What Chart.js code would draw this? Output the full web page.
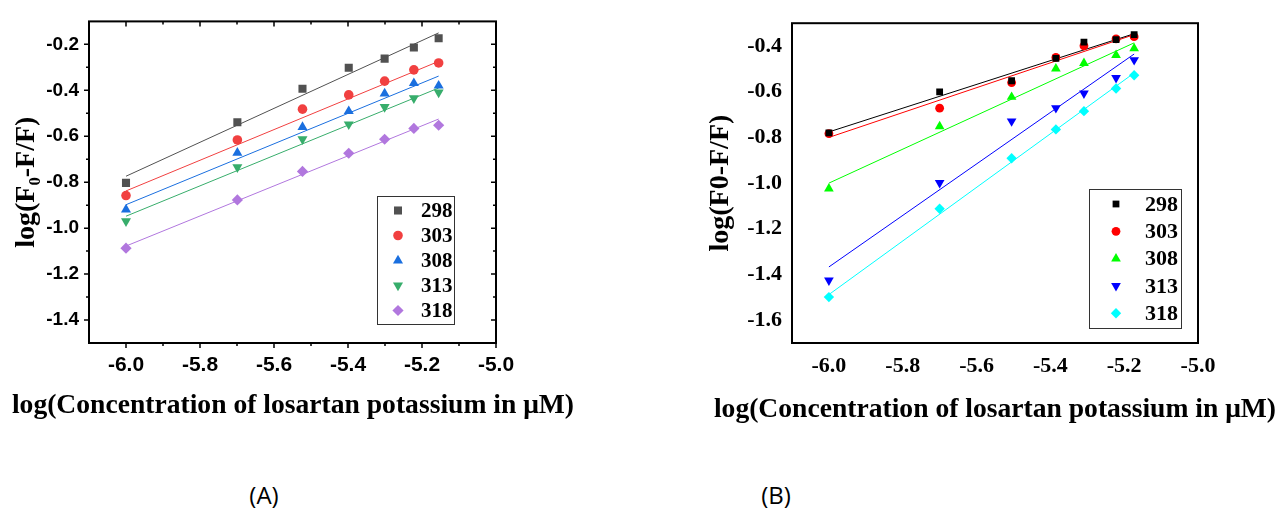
<!DOCTYPE html>
<html>
<head>
<meta charset="utf-8">
<script src="https://cdn.jsdelivr.net/npm/chart.js@4/dist/chart.umd.min.js"></script>
<style>
  body { margin: 0; width: 1278px; height: 510px; background: #fff; position: relative; overflow: hidden; }
  #boxA { position: absolute; left: 0; top: 0; width: 600px; height: 430px; }
  #boxB { position: absolute; left: 640px; top: 0; width: 638px; height: 430px; }
  .xt { position: absolute; width: 640px; text-align: center; white-space: nowrap;
        font: bold 27.6px "Liberation Serif", "Times New Roman", serif; line-height: 30px; color: #000; }
  .tag { position: absolute; top: 480px; width: 60px; text-align: center;
         font: 24px "Open Sans", sans-serif; line-height: 30px; color: #000; }
</style>
</head>
<body>
<div id="boxA"><canvas id="chartA"></canvas></div>
<div id="boxB"><canvas id="chartB"></canvas></div>
<div class="xt" style="left:-27px; top:389px">log(Concentration of losartan potassium in μM)</div>
<div class="xt" style="left:675px; top:393px">log(Concentration of losartan potassium in μM)</div>
<div class="tag" style="left:234px">(A)</div>
<div class="tag" style="left:746px">(B)</div>

<script>
// temperatures (legend)
const temps = ['298', '303', '308', '313', '318'];

// ---- panel A ----
const xA = [-6.0, -5.699, -5.523, -5.398, -5.301, -5.222, -5.155];
const yA298 = [-0.803, -0.539, -0.393, -0.302, -0.262, -0.214, -0.173];
const yA303 = [-0.858, -0.616, -0.482, -0.420, -0.360, -0.311, -0.281];
const yA308 = [-0.919, -0.672, -0.560, -0.491, -0.414, -0.369, -0.380];
const yA313 = [-0.970, -0.735, -0.613, -0.548, -0.472, -0.434, -0.409];
const yA318 = [-1.087, -0.877, -0.753, -0.674, -0.613, -0.566, -0.552];
const fitAx = [-6.0, -5.155];
const fitAstart = [-0.774, -0.838, -0.898, -0.948, -1.078];
const fitAend = [-0.150, -0.274, -0.338, -0.390, -0.525];
const yTicksA = [-1.4, -1.2, -1.0, -0.8, -0.6, -0.4, -0.2];

// ---- panel B ----
const xB = [-6.0, -5.70, -5.505, -5.385, -5.309, -5.222, -5.173];
const yB298 = [-0.780, -0.601, -0.552, -0.454, -0.383, -0.372, -0.350];
const yB303 = [-0.783, -0.672, -0.560, -0.450, -0.399, -0.369, -0.359];
const yB308 = [-1.024, -0.752, -0.623, -0.499, -0.475, -0.440, -0.410];
const yB313 = [-1.426, -0.999, -0.729, -0.671, -0.607, -0.539, -0.461];
const yB318 = [-1.499, -1.112, -0.891, -0.765, -0.685, -0.586, -0.528];
const fitBx = [-6.0, -5.173];
const fitBstart = [-0.776, -0.800, -1.000, -1.367, -1.488];
const fitBend = [-0.346, -0.350, -0.386, -0.435, -0.518];
const yTicksB = [-1.6, -1.4, -1.2, -1.0, -0.8, -0.6, -0.4];

const xTicks = [-6.0, -5.8, -5.6, -5.4, -5.2, -5.0];

const styles = ['rect', 'circle', 'triangle', 'triangle', 'rectRot'];
const rots = [0, 0, 0, 180, 0];

function buildSets(xs, ys, colors, radii, fx, fs, fe) {
  const sets = [];
  ys.forEach(function (arr, i) {
    sets.push({
      label: temps[i],
      data: arr.map(function (v, k) { return { x: xs[k], y: v }; }),
      pointStyle: styles[i],
      pointRotation: rots[i],
      pointRadius: radii[i],
      pointBackgroundColor: colors[i],
      pointBorderWidth: 0,
      showLine: false
    });
  });
  ys.forEach(function (arr, i) {
    sets.push({
      label: 'fit' + temps[i],
      isFit: true,
      data: [{ x: fx[0], y: fs[i] }, { x: fx[1], y: fe[i] }],
      showLine: true,
      borderColor: colors[i],
      borderWidth: 1,
      pointRadius: 0
    });
  });
  return sets;
}

// box, ticks and legend drawn around / inside the plot area
const framePlugin = {
  id: 'frame',
  afterDatasetsDraw(chart, args, o) {
    const ctx = chart.ctx, a = chart.chartArea;
    const xs = chart.scales.x, ys = chart.scales.y;
    ctx.save();
    ctx.strokeStyle = '#000';
    ctx.lineWidth = o.border;
    ctx.strokeRect(a.left, a.top, a.right - a.left, a.bottom - a.top);
    if (o.ticks) {
      ctx.lineWidth = 1.5;
      ctx.beginPath();
      for (let v = -6.1; v <= -4.99; v += 0.1) {
        const p = xs.getPixelForValue(v);
        const major = Math.abs(Math.round(v * 5) - v * 5) < 0.01;
        const len = major ? 5 : 3;
        if (p <= a.left + 1) continue;
        ctx.moveTo(p, a.bottom); ctx.lineTo(p, a.bottom + len);
        ctx.moveTo(p, a.top); ctx.lineTo(p, a.top + len);
      }
      for (let v = ys.min + 0.1; v < ys.max - 0.01; v += 0.1) {
        const p = ys.getPixelForValue(v);
        const major = Math.abs(Math.round(v * 5) - v * 5) < 0.01;
        const len = major ? 5 : 3;
        ctx.moveTo(a.left, p); ctx.lineTo(a.left - len, p);
        ctx.moveTo(a.right, p); ctx.lineTo(a.right - len, p);
      }
      ctx.stroke();
    }
    // legend
    const L = o.legend;
    const bx = a.right - L.right - L.w, by = a.bottom - L.bottom - L.h;
    ctx.fillStyle = '#fff';
    ctx.fillRect(bx, by, L.w, L.h);
    ctx.lineWidth = 1;
    ctx.strokeStyle = '#333';
    ctx.strokeRect(bx + 0.5, by + 0.5, L.w, L.h);
    ctx.font = L.font;
    ctx.textBaseline = 'middle';
    ctx.textAlign = 'left';
    chart.data.datasets.forEach(function (ds, i) {
      if (ds.isFit) return;
      const y = by + L.first + i * L.step;
      ctx.fillStyle = ds.pointBackgroundColor;
      Chart.helpers.drawPoint(ctx, { pointStyle: ds.pointStyle, rotation: ds.pointRotation, radius: ds.pointRadius, borderWidth: 0 }, bx + L.mx, y);
      ctx.fillStyle = '#000';
      ctx.fillText(ds.label, bx + L.tx, y + 1);
    });
    ctx.restore();
  }
};

function makeChart(id, sets, opt) {
  return new Chart(document.getElementById(id), {
    type: 'scatter',
    data: { datasets: sets },
    plugins: [framePlugin],
    options: {
      responsive: true,
      maintainAspectRatio: false,
      animation: false,
      layout: { padding: { top: 14, right: opt.padRight, left: 0, bottom: 0 } },
      plugins: { legend: { display: false }, tooltip: { enabled: false }, frame: opt.frame },
      scales: {
        x: {
          min: -6.1, max: -5.0,
          grid: { display: false, drawTicks: false },
          border: { display: false },
          afterBuildTicks: function (s) { s.ticks = xTicks.map(function (v) { return { value: v }; }); },
          afterFit: function (s) { s.height = 87; },
          ticks: { color: '#000', padding: opt.xPad, font: opt.xFont, callback: function (v) { return Number(v).toFixed(1); } }
        },
        y: {
          min: opt.yMin, max: opt.yMax,
          grid: { display: false, drawTicks: false },
          border: { display: false },
          afterBuildTicks: function (s) { s.ticks = opt.yTicks.map(function (v) { return { value: v }; }); },
          afterFit: function (s) { s.width = opt.yWidth; },
          ticks: { color: '#000', padding: opt.yPad, font: opt.yFont, callback: function (v) { return Number(v).toFixed(1); } },
          title: { display: true, text: opt.yTitle, color: '#000', font: opt.yTitleFont, padding: { top: opt.yTitlePad, bottom: 0 } }
        }
      }
    }
  });
}

const colorsA = ['#515151', '#F14040', '#1A6FDF', '#37AD6B', '#B177DE'];
const colorsB = ['#000000', '#FF0000', '#00FF00', '#0000FF', '#00FFFF'];

makeChart('chartA',
  buildSets(xA, [yA298, yA303, yA308, yA313, yA318], colorsA, [5.7, 4.8, 5.8, 5.8, 5.6], fitAx, fitAstart, fitAend),
  {
    padRight: 104, yWidth: 89, yMin: -1.5, yMax: -0.1, yTicks: yTicksA,
    xPad: 10, yPad: 10, yTitlePad: 10,
    xFont: { family: '"Liberation Sans", Arial, sans-serif', size: 21, weight: 'bold' },
    yFont: { family: '"Liberation Sans", Arial, sans-serif', size: 19, weight: 'bold' },
    yTitleFont: { family: '"Liberation Serif", "Times New Roman", serif', size: 28, weight: 'bold' },
    yTitle: 'log(F₀-F/F)',
    frame: { border: 2, ticks: true,
             legend: { w: 77, h: 128, right: 42, bottom: 19, first: 14.5, step: 25, mx: 21, tx: 44,
                       font: 'bold 21px "Liberation Serif", serif' } }
  });

makeChart('chartB',
  buildSets(xB, [yB298, yB303, yB308, yB313, yB318], colorsB, [4.8, 4.4, 5.6, 5.6, 5.2], fitBx, fitBstart, fitBend),
  {
    padRight: 80, yWidth: 152, yMin: -1.7, yMax: -0.3, yTicks: yTicksB,
    xPad: 10, yPad: 10, yTitlePad: 64,
    xFont: { family: '"Liberation Serif", "Times New Roman", serif', size: 22, weight: 'bold' },
    yFont: { family: '"Liberation Serif", "Times New Roman", serif', size: 22, weight: 'bold' },
    yTitleFont: { family: '"Liberation Serif", "Times New Roman", serif', size: 28, weight: 'bold' },
    yTitle: 'log(F0-F/F)',
    frame: { border: 2, ticks: false,
             legend: { w: 92, h: 139, right: 17, bottom: 15, first: 15, step: 27.3, mx: 27, tx: 56,
                       font: 'bold 22px "Liberation Serif", serif' } }
  });
</script>
</body>
</html>
